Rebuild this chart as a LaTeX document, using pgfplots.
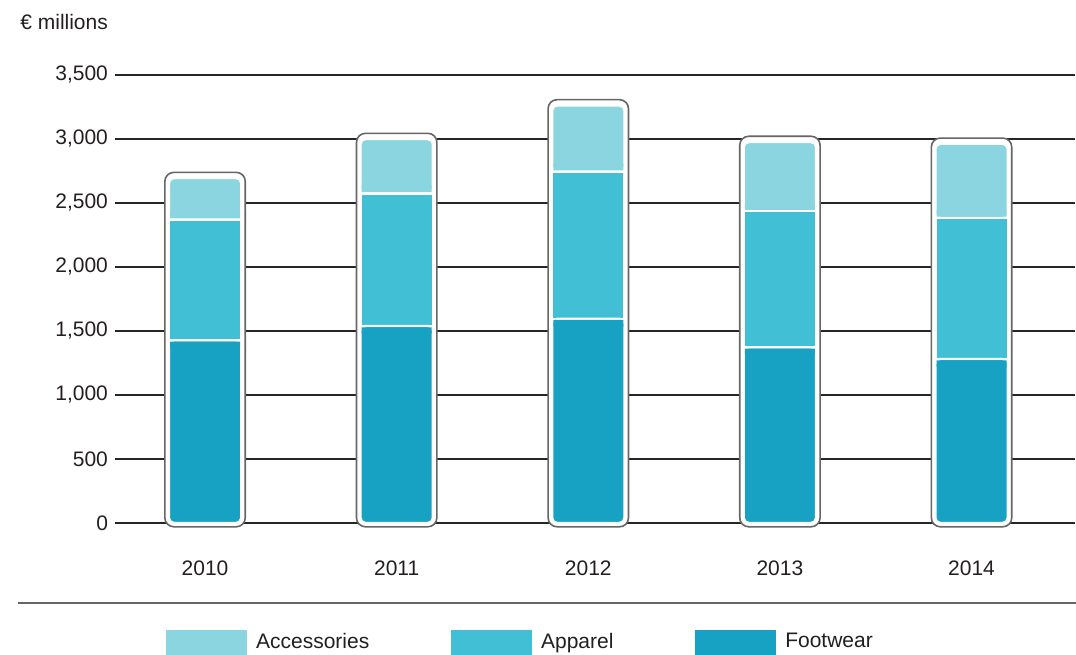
\documentclass[border=0pt]{standalone}
\usepackage{fontspec}
\setmainfont{Liberation Sans}
\usepackage{pgfplots}
\pgfplotsset{compat=1.18}
\definecolor{accC}{HTML}{8BD5E0}
\definecolor{appC}{HTML}{40BFD5}
\definecolor{fwC}{HTML}{17A2C4}
\definecolor{txtC}{HTML}{231F20}

% shared geometry so the stacked layers line up
\pgfplotsset{
  base/.style={
    scale only axis, width=480pt, height=224pt,
    xmin=-0.47, xmax=4.54, ymin=0, ymax=3500,
    clip=false, at={(57.5pt,65.5pt)}, anchor=south west,
    ybar stacked,
  },
}

\begin{document}
\begin{tikzpicture}[font=\fontsize{10.5}{12.6}\selectfont, text=txtC]
\useasboundingbox (0,0) rectangle (538pt,327pt);

% grid, labels, legend and the rounded frames
\begin{axis}[base, bar width=40.2pt,
  axis line style={draw=none},
  ymajorgrids, grid style={black!85, line width=0.6pt},
  ytick={0,500,...,3500}, major tick length=0pt,
  xtick={0,...,4}, xticklabels={2010,2011,2012,2013,2014},
  xticklabel style={yshift=-15.5pt},
  scaled y ticks=false,
  /pgf/number format/1000 sep={,},
  /pgf/number format/assume math mode=true,
  legend columns=3, legend cell align=left,
  legend style={draw=none, fill=none, inner sep=0pt, at={(0.053,-0.2656)}, anchor=west,
    /tikz/every even column/.append style={column sep=39pt}},
]
% frame = total + top gap, pushed down a little below the zero line
\addplot[fill=white, draw=black!60, line width=0.8pt, rounded corners=4.5pt, yshift=-1.9pt, forget plot]
  coordinates {(0,2769) (1,3074) (2,3337) (3,3051) (4,3037)};
\addlegendimage{legend image code/.code={\fill[accC] (0pt,-6pt) rectangle (40pt,6pt);}}
\addlegendentry{\hspace{2.5pt}Accessories}
\addlegendimage{legend image code/.code={\fill[appC] (0pt,-6pt) rectangle (40pt,6pt);}}
\addlegendentry{\hspace{2.5pt}Apparel}
\addlegendimage{legend image code/.code={\fill[fwC] (0pt,-6pt) rectangle (40pt,6pt);}}
\addlegendentry{\hspace{2.5pt}Footwear}
\draw[black!60, line width=0.8pt] (axis description cs:-0.101,-0.1786) -- (axis description cs:1.01,-0.1786);
\node[anchor=west, inner sep=0pt] at (axis description cs:-0.099,1.118) {€ millions};
\end{axis}

% the stacked bars
\begin{axis}[base, hide axis, bar width=36.2pt]
\addplot[fill=fwC, draw=white, line width=1.2pt, rounded corners=2.5pt]
  coordinates {(0,1427) (1,1539) (2,1596) (3,1372) (4,1281)};
\addplot[fill=appC, draw=white, line width=1.2pt]
  coordinates {(0,943) (1,1036) (2,1149) (3,1065) (4,1102)};
\addplot[fill=accC, draw=white, line width=1.2pt, rounded corners=2.5pt]
  coordinates {(0,325) (1,425) (2,518) (3,540) (4,580)};
\end{axis}

% square patches so only the outer corners look rounded
\begin{axis}[base, hide axis, bar width=35pt]
\addplot[draw=none, fill=none] coordinates {(0,1367) (1,1479) (2,1536) (3,1312) (4,1221)};
\addplot[draw=none, fill=fwC] coordinates {(0,50) (1,50) (2,50) (3,50) (4,50)};
\addplot[draw=none, fill=none] coordinates {(0,963) (1,1056) (2,1169) (3,1085) (4,1122)};
\addplot[draw=none, fill=accC] coordinates {(0,50) (1,50) (2,50) (3,50) (4,50)};
\end{axis}
\end{tikzpicture}
\end{document}
